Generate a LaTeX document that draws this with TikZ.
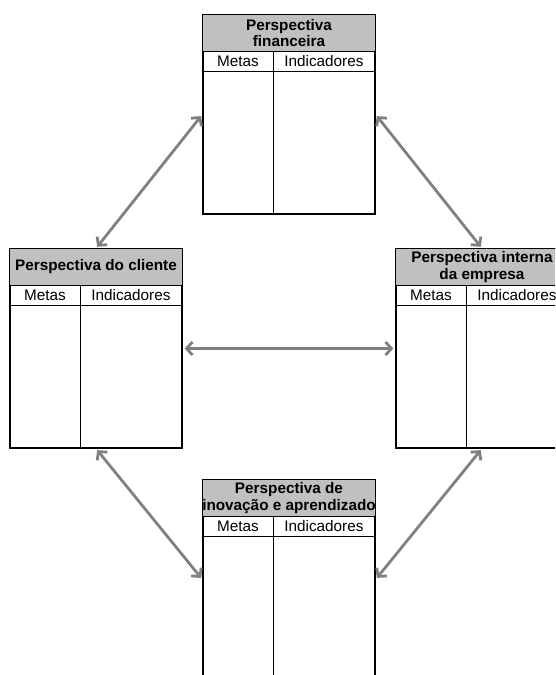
\documentclass[tikz,border=0pt]{standalone}
\usepackage{fontspec}
\setmainfont{Liberation Sans}
\usetikzlibrary{arrows.meta}

\begin{document}
\begin{tikzpicture}[x=1pt,y=1pt,
  panel/.style={draw,line width=1.2pt,minimum width=172pt,minimum height=199pt,inner sep=0pt},
  headtxt/.style={font=\bfseries\fontsize{15.3}{16.5}\selectfont,align=center,inner sep=0pt},
  coltxt/.style={font=\fontsize{15.3}{16.5}\selectfont,inner sep=0pt},
  link/.style={draw=cline,line width=2.8pt,{Straight Barb[length=6pt,width=13pt]}-{Straight Barb[length=6pt,width=13pt]},shorten <=2pt,shorten >=2pt}]
\definecolor{chead}{RGB}{192,192,192}
\definecolor{cline}{RGB}{128,128,128}
\clip (0,0) rectangle (555,675);
% financeira
\node[panel] (fin) at (289,560.5) {};
\filldraw[fill=chead,line width=1.2pt] (fin.north west) rectangle ([yshift=-37pt]fin.north east);
\draw[line width=1.4pt] ([yshift=-57pt]fin.north west) -- ([yshift=-57pt]fin.north east);
\draw[line width=1.6pt] ([shift={(71,-37)}]fin.north west) -- ([xshift=71pt]fin.south west);
\node[headtxt] (fin-h) at ([yshift=-18.5pt]fin.north) {Perspectiva\\financeira};
\node[coltxt] (fin-m) at ([shift={(35.5,-47)}]fin.north west) {Metas};
\node[coltxt] (fin-i) at ([shift={(121.5,-47)}]fin.north west) {Indicadores};
% cliente
\node[panel] (cli) at (96,326.5) {};
\filldraw[fill=chead,line width=1.2pt] (cli.north west) rectangle ([yshift=-37pt]cli.north east);
\draw[line width=1.4pt] ([yshift=-57pt]cli.north west) -- ([yshift=-57pt]cli.north east);
\draw[line width=1.6pt] ([shift={(71,-37)}]cli.north west) -- ([xshift=71pt]cli.south west);
\node[headtxt] (cli-h) at ([yshift=-18.5pt]cli.north) {Perspectiva do cliente};
\node[coltxt] (cli-m) at ([shift={(35.5,-47)}]cli.north west) {Metas};
\node[coltxt] (cli-i) at ([shift={(121.5,-47)}]cli.north west) {Indicadores};
% interna
\node[panel] (int) at (482,326.5) {};
\filldraw[fill=chead,line width=1.2pt] (int.north west) rectangle ([yshift=-37pt]int.north east);
\draw[line width=1.4pt] ([yshift=-57pt]int.north west) -- ([yshift=-57pt]int.north east);
\draw[line width=1.6pt] ([shift={(71,-37)}]int.north west) -- ([xshift=71pt]int.south west);
\node[headtxt] (int-h) at ([yshift=-18.5pt]int.north) {Perspectiva interna\\da empresa};
\node[coltxt] (int-m) at ([shift={(35.5,-47)}]int.north west) {Metas};
\node[coltxt] (int-i) at ([shift={(121.5,-47)}]int.north west) {Indicadores};
% inovacao
\node[panel] (ino) at (289,95.5) {};
\filldraw[fill=chead,line width=1.2pt] (ino.north west) rectangle ([yshift=-37pt]ino.north east);
\draw[line width=1.4pt] ([yshift=-57pt]ino.north west) -- ([yshift=-57pt]ino.north east);
\draw[line width=1.6pt] ([shift={(71,-37)}]ino.north west) -- ([xshift=71pt]ino.south west);
\node[headtxt] (ino-h) at ([yshift=-18.5pt]ino.north) {Perspectiva de\\inovação e aprendizado};
\node[coltxt] (ino-m) at ([shift={(35.5,-47)}]ino.north west) {Metas};
\node[coltxt] (ino-i) at ([shift={(121.5,-47)}]ino.north west) {Indicadores};
% links
\draw[link] (cli.north) -- (fin.west);
\draw[link] (fin.east) -- (int.north);
\draw[link] (cli.east) -- (int.west);
\draw[link] (cli.south) -- (ino.west);
\draw[link] (ino.east) -- (int.south);
\end{tikzpicture}
\end{document}
